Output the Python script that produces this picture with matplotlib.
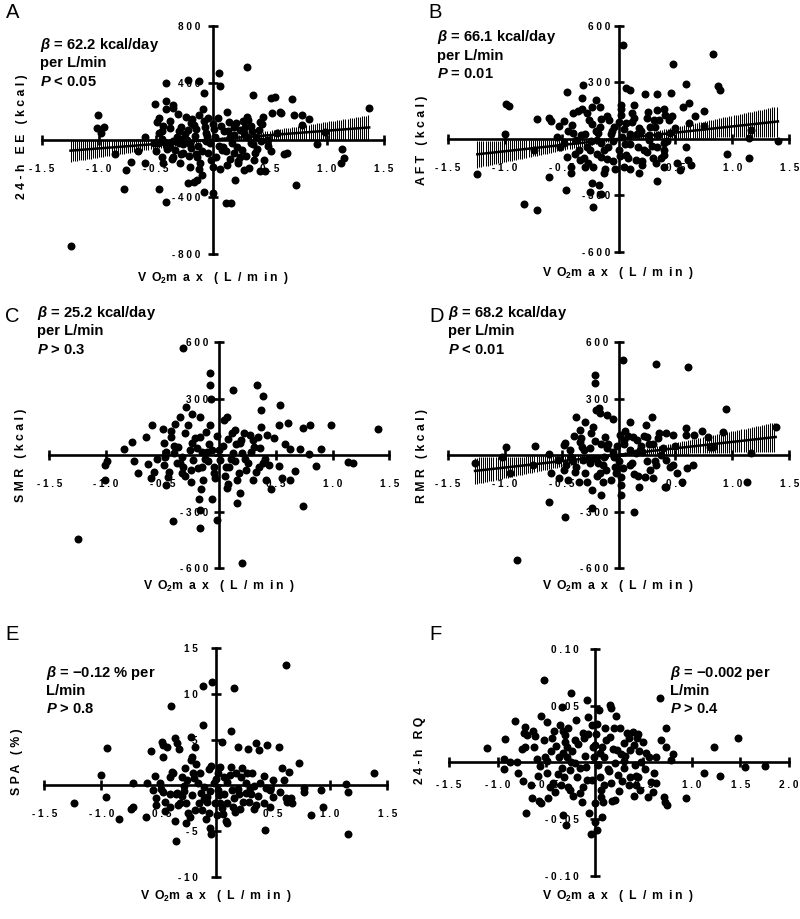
"""
Residual plots of energy expenditure components vs VO2max (panels A-F).
"""

import matplotlib.pyplot as plt
import numpy as np

plt.rcParams["font.family"] = ["Liberation Sans", "DejaVu Sans"]
plt.rcParams["mathtext.fontset"] = "custom"
plt.rcParams["mathtext.rm"] = "Liberation Sans:bold"
plt.rcParams["mathtext.bf"] = "Liberation Sans:bold"
plt.rcParams["mathtext.it"] = "Liberation Sans:italic:bold"

# ---- data (residuals) ----
a_x = [-1.25, -1.01, -1.02, -0.96, -0.98, -0.86, -0.76, -0.72, -0.78, -0.66,
       -0.60, -0.60, -0.51, -0.49, -0.52, -0.50, -0.47, -0.41, -0.41, -0.41,
       -0.35, -0.41, -0.35, -0.47, -0.44, -0.38, -0.47, -0.45, -0.44, -0.35,
       -0.38, -0.32, -0.28, -0.30, -0.26, -0.29, -0.22, -0.12, -0.08, -0.09,
       -0.12, -0.22, -0.17, -0.23, -0.19, -0.14, -0.11, -0.22, -0.17, -0.14,
       -0.10, -0.20, -0.08, 0.00, -0.04, 0.04, -0.06, -0.03, -0.04, 0.03,
       0.00, 0.05, 0.06, 0.11, 0.16, 0.19, 0.12, 0.09, 0.14, 0.18,
       0.15, 0.21, 0.24, 0.18, 0.30, 0.35, 0.30, 0.31, 0.27, 0.33,
       0.37, 0.32, 0.41, 0.46, 0.41, 0.38, 0.51, 0.54, 0.52, 0.59,
       0.60, 0.51, 0.62, 0.65, 0.47, 0.56, 0.69, 0.71, 0.78, 0.84,
       0.78, 0.73, 0.91, 0.98, 1.13, 1.15, 1.12, 1.37,
       -0.25, -0.20, -0.15, -0.10, -0.05, 0.00, 0.05, 0.10, 0.15, 0.20,
       0.25, 0.30, 0.35, 0.40, 0.45, -0.35, -0.30, -0.40, -0.45, 0.22,
       0.12, -0.12, 0.28, -0.28, 0.18, -0.08, 0.06, 0.33, -0.18, 0.42,
       -0.45, -0.42, -0.38, -0.33, -0.27, -0.24, -0.21, -0.16, -0.13, -0.07,
       -0.02, 0.02, 0.07, 0.11, 0.13, 0.17, 0.22, 0.26, 0.29, 0.34,
       0.39, 0.43, 0.48, -0.36, -0.31, -0.26, -0.19, -0.06, 0.08, 0.24,
       0.36, 0.44, -0.48, -0.15, 0.01, 0.27]
a_y = [-741, 175, 87, 94, 47, -98, -211, -157, -346, -75,
       19, -164, 253, 129, -23, -75, -342, -433, 398, 276,
       246, 215, 222, 152, 98, 82, 47, -117, -164, -117,
       -47, 23, 94, -23, -94, -159, 421, 414, 332, 218,
       175, 70, 105, 0, -58, -117, -164, -299, -292, -281,
       -246, -187, -363, -370, 152, 152, 47, -23, -94, -117,
       -187, 472, 379, -444, -444, -281, -175, -47, 129, 94,
       23, -47, -117, -94, 515, 316, 164, 140, 47, -23,
       -94, -199, -215, -215, 129, 23, 292, 304, 187, 199,
       192, -75, -98, -89, 0, 47, 285, 175, 175, 145,
       105, -318, -28, 58, -65, -126, -164, 227,
       40, -30, 80, -80, 30, 110, -40, 60, -130, 120,
       -70, 20, -30, 70, -140, -10, 60, -60, 10, -150,
       200, -200, 90, -100, 35, 130, -200, 100, 150, -10,
       60, -20, 130, -70, 10, 160, -110, 30, -40, 90,
       -140, 20, 100, -80, 60, -20, -160, 130, -110, 60,
       -60, 110, -40, -130, 180, -30, 120, -10, -70, 70,
       -140, 160, -20, -100, 80, -210]

b_x = [-1.24, -0.99, -0.96, -1.00, -0.74, -0.83, -0.72, -0.72, -0.61, -0.59,
       -0.61, -0.52, -0.48, -0.45, -0.46, -0.54, -0.51, -0.45, -0.42, -0.42,
       -0.40, -0.41, -0.37, -0.35, -0.34, -0.31, -0.32, -0.32, -0.28, -0.26,
       -0.29, -0.28, -0.29, -0.23, -0.20, -0.16, -0.15, -0.16, -0.19, -0.19,
       -0.22, -0.23, -0.17, -0.25, -0.15, -0.22, -0.10, -0.15, -0.13, -0.09,
       -0.07, -0.04, 0.00, 0.02, 0.04, 0.07, 0.10, 0.02, 0.07, 0.10,
       0.06, 0.07, 0.05, 0.10, 0.14, 0.16, 0.17, 0.18, 0.21, 0.23,
       0.26, 0.28, 0.27, 0.25, 0.34, 0.34, 0.32, 0.34, 0.33, 0.34,
       0.40, 0.40, 0.41, 0.40, 0.40, 0.46, 0.48, 0.50, 0.51, 0.54,
       0.59, 0.57, 0.62, 0.62, 0.59, 0.61, 0.64, 0.67, 0.75, 0.75,
       0.83, 0.87, 0.89, 0.95, 1.16, 1.15, 1.15, 1.40,
       -0.05, 0.00, 0.05, 0.10, -0.10, 0.20, -0.20, 0.25, 0.30, -0.30,
       0.15, -0.05, 0.02, -0.15, 0.12, -0.25, 0.45, 0.40, -0.40, 0.35,
       -0.48, -0.44, -0.38, -0.33, -0.27, -0.23, -0.18, -0.13, -0.08, -0.03,
       0.03, 0.08, 0.12, 0.18, 0.22, 0.27, 0.31, 0.37, 0.43, 0.47,
       -0.36, -0.24, -0.12, 0.01, 0.14, 0.29, 0.44, -0.06, 0.21, 0.36]
b_y = [-188, 184, 174, 28, -60, -344, -379, 108, 113, 96,
       -202, 67, 96, 250, -273, 11, -43, -96, -149, -184,
       135, 73, -7, -60, -113, 285, 215, 161, 135, 99,
       28, -43, -149, 170, 209, 170, 103, 64, -7, -78,
       -149, -234, -246, -282, -291, -362, -105, -96, -181, -43,
       28, 64, 90, 126, 498, 268, 262, 161, 82, 28,
       -25, -87, -149, -158, 179, 28, -43, -184, -140, 241,
       144, 64, -7, -69, 238, 153, 64, -43, -131, -225,
       -149, 161, 126, -60, -87, 245, 397, 60, -131, -167,
       289, 167, 188, 82, -43, -113, -140, 122, 149, 67,
       450, 280, 262, -82, 46, 2, -101, -12,
       -10, -60, 50, -30, 120, 40, 40, 110, -100, -100,
       -110, -120, 180, -20, 90, -60, 30, -20, 30, 20,
       -20, 40, -80, 20, -130, 80, 30, -60, 100, -160,
       10, -100, 140, 60, -60, 20, 100, -100, -10, 120,
       150, -10, -160, -90, 110, -40, 100, 40, -120, 100]

c_x = [-1.25, -1.01, -0.99, -1.01, -0.84, -0.77, -0.75, -0.72, -0.65, -0.63,
       -0.59, -0.58, -0.60, -0.50, -0.49, -0.48, -0.49, -0.47, -0.45, -0.43,
       -0.43, -0.41, -0.39, -0.35, -0.36, -0.33, -0.32, -0.33, -0.30, -0.29,
       -0.32, -0.24, -0.24, -0.25, -0.23, -0.18, -0.17, -0.17, -0.17, -0.17,
       -0.16, -0.14, -0.12, -0.11, -0.08, -0.08, -0.07, -0.08, -0.06, -0.02,
       -0.05, -0.02, 0.01, 0.04, 0.07, 0.07, 0.08, 0.09, 0.12, 0.14,
       0.16, 0.18, 0.17, 0.20, 0.18, 0.22, 0.24, 0.30, 0.31, 0.33,
       0.37, 0.39, 0.37, 0.34, 0.39, 0.42, 0.41, 0.46, 0.53, 0.54,
       0.53, 0.55, 0.58, 0.61, 0.62, 0.62, 0.67, 0.71, 0.74, 0.74,
       0.79, 0.80, 0.85, 0.90, 0.99, 1.14, 1.18, 1.40,
       -0.10, 0.00, 0.10, -0.20, 0.20, -0.05, 0.15, -0.25, 0.25, 0.05,
       -0.15, 0.30, -0.35, 0.35, 0.12, -0.40,
       -0.47, -0.44, -0.40, -0.37, -0.30, -0.26, -0.21, -0.19, -0.13, -0.09,
       -0.04, 0.03, 0.06, 0.11, 0.14, 0.19, 0.23, 0.27, 0.32, 0.36,
       0.44, 0.48, -0.55, -0.28, -0.06, 0.16, 0.28, 0.40, -0.15, 0.08]
c_y = [-446, -51, -28, -131, 34, 73, -28, -92, 99, -46,
       159, -87, -122, 138, 64, -7, -51, -158, -117, 129,
       99, -347, 166, 205, 46, -7, -60, -96, 117, 258,
       568, 219, 64, -140, -25, -234, 205, 99, -290, -384,
       -181, -131, 126, 19, 439, 373, 297, 161, -232, -343,
       -96, 103, -25, 188, 205, -175, 85, -60, 347, 135,
       -251, -202, -96, -570, 64, 120, -78, -131, 46, 373,
       241, 315, 152, 99, -42, 108, -131, -181, 161, 267,
       -57, -122, 60, 173, 32, -131, -81, 32, 143, -269,
       7, 161, -55, 32, 161, -34, -42, 140,
       -30, 30, -20, 40, 10, -60, 60, -80, -40, -110,
       20, 80, -40, -60, 10, 10,
       20, -90, 50, -40, -110, 30, 90, -70, -20, 60,
       -120, 50, -60, 120, -30, 80, -20, 110, -90, 40,
       -50, 90, -20, 160, 30, -130, 20, -20, -60, -150]

d_x = [-1.26, -1.02, -0.99, -0.95, -0.89, -0.73, -0.75, -0.61, -0.61, -0.59,
       -0.53, -0.48, -0.47, -0.47, -0.48, -0.44, -0.42, -0.39, -0.37, -0.37,
       -0.35, -0.34, -0.32, -0.31, -0.29, -0.29, -0.28, -0.24, -0.23, -0.23,
       -0.21, -0.21, -0.21, -0.20, -0.17, -0.16, -0.18, -0.16, -0.15, -0.14,
       -0.12, -0.13, -0.10, -0.05, -0.04, -0.03, -0.02, 0.02, 0.02, 0.02,
       0.04, 0.01, 0.05, 0.10, 0.13, 0.10, 0.14, 0.17, 0.18, 0.21,
       0.23, 0.24, 0.25, 0.29, 0.30, 0.33, 0.33, 0.37, 0.41, 0.42,
       0.42, 0.42, 0.48, 0.48, 0.51, 0.56, 0.59, 0.59, 0.61, 0.60,
       0.65, 0.66, 0.73, 0.79, 0.80, 0.83, 0.92, 0.94, 1.13, 1.16,
       1.38,
       -0.30, -0.20, -0.10, 0.00, 0.10, 0.20, -0.25, 0.15, 0.30, -0.15,
       0.25, -0.05, 0.05, -0.40, 0.35,
       -0.46, -0.43, -0.38, -0.34, -0.27, -0.25, -0.19, -0.14, -0.09, -0.07,
       -0.01, 0.04, 0.08, 0.12, 0.16, 0.19, 0.22, 0.27, 0.32, 0.36,
       0.39, 0.45, -0.52, -0.33, -0.11, 0.06, 0.28, 0.50, -0.22, 0.14]
d_y = [-39, -7, 46, -92, -556, 51, -51, 7, -246, -92,
       -25, 55, 67, -329, -78, -131, -7, 103, 202, -60,
       -140, 135, 46, -25, 179, -96, -140, 117, -184, -281,
       78, 386, 427, 241, 250, 223, -42, -96, -211, -140,
       99, -7, 214, 191, -7, -60, -96, -113, -158, -211,
       506, 108, 81, 179, 99, 28, -303, -110, -166, 19,
       -113, 161, 96, 205, -122, 485, -51, 2, -166, 120,
       -25, -166, -51, 108, -92, -140, 108, 143, 471, -69,
       -51, 108, 129, 99, 46, 46, 126, 246, -140, 14,
       149,
       30, -20, 40, -30, -50, 50, -40, 10, 60, 60,
       -30, 20, 60, -30, 90,
       -50, 30, -90, 70, -20, 40, -110, -50, 60, -130,
       50, -70, 100, -40, 80, 30, 100, 60, -30, 120,
       40, -60, -120, 90, -80, 130, -80, 50, 150, -100]

e_x = [-1.24, -1.00, -0.96, -0.95, -0.85, -0.74, -0.72, -0.72, -0.61, -0.60,
       -0.57, -0.53, -0.55, -0.52, -0.46, -0.46, -0.47, -0.43, -0.49, -0.46,
       -0.44, -0.39, -0.40, -0.40, -0.36, -0.37, -0.36, -0.35, -0.34, -0.34,
       -0.32, -0.31, -0.30, -0.28, -0.27, -0.26, -0.23, -0.22, -0.21, -0.22,
       -0.21, -0.20, -0.18, -0.18, -0.16, -0.14, -0.13, -0.12, -0.11, -0.11,
       -0.09, -0.08, -0.06, -0.05, -0.04, -0.03, -0.04, -0.02, -0.01, 0.02,
       0.02, 0.04, 0.04, 0.05, 0.06, 0.07, 0.09, 0.10, 0.10, 0.13,
       0.13, 0.15, 0.16, 0.17, 0.18, 0.19, 0.19, 0.22, 0.24, 0.26,
       0.27, 0.28, 0.29, 0.32, 0.33, 0.35, 0.35, 0.38, 0.39, 0.42,
       0.43, 0.45, 0.47, 0.50, 0.50, 0.55, 0.56, 0.58, 0.60, 0.61,
       0.61, 0.62, 0.64, 0.66, 0.67, 0.73, 0.77, 0.77, 0.83, 0.92,
       0.94, 1.14, 1.16, 1.16, 1.38,
       -0.30, -0.25, -0.10, 0.00, 0.20, 0.30, -0.40, 0.10, -0.05, 0.05,
       -0.48, -0.44, -0.38, -0.33, -0.28, -0.24, -0.19, -0.15, -0.10, -0.06,
       0.01, 0.07, 0.12, 0.16, 0.21, 0.26, 0.31, 0.37, 0.42, 0.47,
       -0.52, -0.35, -0.17, 0.03, 0.23, 0.44, -0.26, 0.14, 0.33, -0.08]
e_y = [-1.97, 1.17, -1.31, 4.05, -3.72, -2.63, -2.34, 0.29, -3.50, 0.29,
       3.80, 1.02, -0.51, -1.35, 3.14, 4.42, 4.78, 4.23, 0.22, -0.69,
       -1.79, 8.69, -2.34, 0.95, 5.22, 1.31, -3.87, -6.06, 4.67, -0.88,
       3.94, -1.97, 0.95, -0.07, 1.86, -4.09, -3.43, 2.77, 3.14, 5.33,
       -1.06, 1.31, 4.23, -2.70, 0.22, 1.31, -0.80, -2.70, 6.61, 10.88,
       -3.72, -1.79, -2.99, -4.71, -5.36, 11.35, 2.12, 0.22, -1.97, 1.39,
       -0.51, 2.04, -1.97, 4.71, -3.14, 0.95, -3.87, -1.90, -4.09, 1.97,
       5.99, -2.34, 10.62, -2.88, 1.31, 4.23, -0.44, 0.95, -1.79, -0.88,
       1.31, 3.94, -1.79, 1.31, -2.63, 4.67, -2.15, 3.87, 0.22, -1.90,
       -4.89, 4.42, -2.34, 0.58, -1.24, 4.23, -0.69, 1.86, 0.58, 13.18,
       -1.42, -1.79, 1.42, -1.42, -1.90, 2.48, -0.33, -0.69, -3.25, -0.51,
       -2.34, 0.11, -0.77, -5.33, 1.31,
       -1.2, 0.6, -1.5, 0.7, -1.0, -0.3, -0.9, 0.4, -0.6, -2.5,
       -0.4, -2.8, 1.5, -2.2, -0.6, -3.0, 0.8, -1.9, -0.2, 1.8,
       -3.2, -0.9, 1.1, -1.4, -2.6, 0.3, -0.9, -1.2, 1.0, -0.5,
       -2.1, -1.0, 2.3, -1.1, 1.9, -0.3, -1.9, -0.5, -0.1, -1.3]

f_x = [-1.11, -0.92, -0.93, -0.93, -0.87, -0.82, -0.80, -0.79, -0.74, -0.72,
       -0.73, -0.70, -0.72, -0.71, -0.65, -0.64, -0.61, -0.62, -0.59, -0.57,
       -0.55, -0.56, -0.55, -0.52, -0.51, -0.49, -0.49, -0.49, -0.48, -0.44,
       -0.43, -0.41, -0.40, -0.37, -0.36, -0.34, -0.34, -0.33, -0.31, -0.32,
       -0.33, -0.31, -0.29, -0.30, -0.29, -0.27, -0.25, -0.25, -0.24, -0.23,
       -0.20, -0.19, -0.18, -0.15, -0.13, -0.12, -0.11, -0.10, -0.09, -0.08,
       -0.08, -0.07, -0.06, -0.04, -0.03, -0.02, -0.01, 0.00, 0.00, 0.02,
       0.02, 0.03, 0.04, 0.05, 0.06, 0.06, 0.08, 0.07, 0.10, 0.14,
       0.16, 0.17, 0.16, 0.17, 0.18, 0.21, 0.21, 0.22, 0.23, 0.24,
       0.26, 0.27, 0.28, 0.30, 0.30, 0.33, 0.35, 0.36, 0.36, 0.39,
       0.40, 0.41, 0.43, 0.44, 0.45, 0.47, 0.48, 0.50, 0.53, 0.55,
       0.56, 0.58, 0.60, 0.61, 0.63, 0.67, 0.71, 0.72, 0.74, 0.73,
       0.73, 0.79, 0.81, 0.94, 1.12, 1.23, 1.29, 1.48, 1.55, 1.75,
       -0.45, -0.20, 0.10, 0.30, -0.35, 0.45, 0.00, -0.15, 0.20, 0.40,
       -0.58, -0.52, -0.46, -0.42, -0.38, -0.33, -0.27, -0.22, -0.17, -0.12,
       -0.07, -0.03, 0.01, 0.05, 0.09, 0.12, 0.15, 0.19, 0.25, 0.31,
       0.35, 0.42, 0.46, 0.52, -0.66, -0.75, 0.63, 0.68, -0.24, 0.11]
f_y = [0.0124, 0.0203, 0.0029, -0.0062, 0.0006, 0.0368, 0.0006, -0.0097, -0.0162, 0.0315,
       0.0262, 0.0241, 0.0138, -0.0444, -0.0318, 0.0279, 0.0232, 0.0132, 0.0026, -0.0338,
       -0.0356, -0.0032, 0.0409, 0.0726, 0.0050, 0.0015, 0.0359, -0.0097, -0.0318, 0.0218,
       -0.0179, -0.0259, 0.0144, 0.0050, 0.0329, 0.0491, -0.0053, 0.0276, 0.0241, -0.0126,
       -0.0465, 0.0182, 0.0138, -0.0553, 0.0050, -0.0215, -0.0068, -0.0244, 0.0609, 0.0103,
       -0.0003, 0.0374, -0.0126, -0.0268, -0.0347, 0.0262, 0.0212, 0.0056, -0.0044, -0.0156,
       0.0550, 0.0250, -0.0450, -0.0632, 0.0329, 0.0138, 0.0050, -0.0362, -0.0524, -0.0597,
       0.0338, -0.0024, 0.0462, -0.0126, -0.0303, -0.0244, -0.0479, 0.0138, 0.0050, -0.0062,
       0.0506, 0.0476, 0.0226, -0.0179, -0.0338, -0.0332, -0.0009, 0.0409, 0.0109, -0.0112,
       0.0300, 0.0074, -0.0162, 0.0168, 0.0015, 0.0256, 0.0212, -0.0126, 0.0109, 0.0271,
       0.0153, -0.0024, -0.0200, 0.0212, -0.0126, -0.0244, 0.0006, 0.0182, 0.0079, -0.0303,
       0.0050, -0.0171, -0.0259, -0.0097, 0.0050, 0.0565, -0.0303, -0.0347, -0.0376, 0.0300,
       0.0138, 0.0021, 0.0074, -0.0318, -0.0097, 0.0138, -0.0118, 0.0212, -0.0038, -0.0032,
       0.0100, 0.0200, -0.0200, -0.0050, -0.0200, 0.0250, 0.0150, -0.0050, 0.0300, -0.0300,
       -0.012, 0.020, -0.022, 0.028, -0.010, 0.008, 0.030, -0.030, 0.016, -0.022,
       0.040, -0.016, 0.025, 0.008, -0.035, 0.020, -0.008, 0.012, -0.025, 0.006,
       -0.020, -0.012, 0.010, -0.006, -0.020, 0.012, -0.018, 0.020, 0.000, 0.030]

# fitted line: slope, intercept, CI half-width at x=0 and growth with x
fits = {
    "A": (62.2, 3.0, 8.0, 62.0),
    "B": (66.1, 0.0, 8.0, 57.0),
    "D": (68.2, 3.0, 8.0, 56.0),
}

W, H = 800, 919


def fx(px):
    return px / W


def fy(py):
    return 1 - py / H


def spaced(s, sep=" "):
    return sep.join(s)


def draw_panel(box, xs, ys, xlim, ylim, xticks, yticks, ylabels, ypad, xpad=13.5, fit=None):
    x0, y0, x1, y1 = box
    ax = fig.add_axes([fx(x0), fy(y1), (x1 - x0) / W, (y1 - y0) / H])
    ax.set_xlim(*xlim)
    ax.set_ylim(*ylim)
    ax.patch.set_visible(False)
    for side in ("top", "right"):
        ax.spines[side].set_visible(False)
    ax.spines["left"].set_position(("data", 0))
    ax.spines["bottom"].set_position(("data", 0))
    for side in ("left", "bottom"):
        ax.spines[side].set_linewidth(1.9)
    ax.set_xticks(xticks)
    ax.set_xticklabels([spaced(f"{v:.1f}") for v in xticks])
    ax.set_yticks(yticks)
    ax.set_yticklabels([spaced(t) for t in ylabels])
    ax.tick_params(axis="both", direction="inout", length=7.5, width=1.9,
                   labelsize=7.2)
    ax.tick_params(axis="x", pad=xpad)
    ax.tick_params(axis="y", pad=ypad)
    for lab in ax.get_xticklabels() + ax.get_yticklabels():
        lab.set_fontweight("bold")

    if fit is not None:
        slope, icpt, se0, seb = fit
        xg = np.arange(min(xs), max(xs) + 1e-9, 0.018)
        yg = slope * xg + icpt
        hw = np.sqrt(se0**2 + (seb * xg) ** 2)
        ax.vlines(xg, yg - hw, yg + hw, colors="black", linewidth=0.75, zorder=3)
        xl = np.array([min(xs), max(xs)])
        ax.plot(xl, slope * xl + icpt, color="black", lw=1.8, zorder=3)

    ax.scatter(xs, ys, s=33, color="black", linewidths=0, zorder=4, clip_on=False)
    return ax


fig = plt.figure(figsize=(8, 9.19), dpi=100)

panels = [
    ("A", (42, 26, 384, 254), a_x, a_y, (-800, 800), [-800, -400, 0, 400, 800],
     ["-800", "-400", "", "400", "800"], 5.0, fits["A"]),
    ("B", (447.7, 26, 789.3, 251.7), b_x, b_y, (-600, 600), [-600, -300, 0, 300, 600],
     ["-600", "-300", "", "300", "600"], 2.0, fits["B"]),
    ("C", (49.3, 342.3, 389.3, 568.3), c_x, c_y, (-600, 600), [-600, -300, 0, 300, 600],
     ["-600", "-300", "", "300", "600"], 4.0, None),
    ("D", (447.7, 342.3, 789.3, 568.3), d_x, d_y, (-600, 600), [-600, -300, 0, 300, 600],
     ["-600", "-300", "", "300", "600"], 3.5, fits["D"]),
    ("E", (44.3, 648.3, 387.3, 876.7), e_x, e_y, (-10, 15), [-10, -5, 0, 5, 10, 15],
     ["-10", "-5", "", "5", "10", "15"], 9.5, None),
    ("F", (449, 649, 789, 875.7), f_x, f_y, (-0.10, 0.10), [-0.10, -0.05, 0, 0.05, 0.10],
     ["-0.10", "-0.05", "", "0.05", "0.10"], 8.0, None),
]

axes = {}
for name, box, xs, ys, ylim, yt, yl, ypad, fit in panels:
    if name == "F":
        xlim, xt = (-1.5, 2.0), [-1.5, -1.0, -0.5, 0.5, 1.0, 1.5, 2.0]
        xpad = 9.0
    else:
        xlim, xt = (-1.5, 1.5), [-1.5, -1.0, -0.5, 0.5, 1.0, 1.5]
        xpad = 13.5
    axes[name] = draw_panel(box, xs, ys, xlim, ylim, xt, yt, yl, ypad, xpad, fit)

# panel letters
letters = {"A": (6, 13), "B": (428, 13), "C": (5, 316), "D": (429, 316),
           "E": (5, 634), "F": (429, 634)}
for k, (px, py) in letters.items():
    fig.text(fx(px), fy(py), k, fontsize=14.5, ha="left", va="center")

# y axis labels
ylab = {"A": ("24-h EE (kcal)", 22, 137), "B": ("AFT (kcal)", 422, 140),
        "C": ("SMR (kcal)", 21, 455), "D": ("RMR (kcal)", 422, 456),
        "E": ("SPA (%)", 17, 762), "F": ("24-h RQ", 420, 750)}
for k, (txt, px, py) in ylab.items():
    fig.text(fx(px), fy(py), spaced(txt), rotation=90, fontsize=8.8,
             fontweight="bold", ha="center", va="center")

# x axis labels
xlab_pos = {"A": (213, 278), "B": (618, 273), "C": (219, 586), "D": (618, 586),
            "E": (216, 896), "F": (618, 896)}
vo2 = "V \u2009O$_\\mathregular{2}$m \u2009a \u2009x \u2009 \u2009( \u2009L \u2009/ \u2009m \u2009i n \u2009)"
for k, (px, py) in xlab_pos.items():
    fig.text(fx(px), fy(py), vo2, fontsize=8.8, fontweight="bold",
             ha="center", va="center")

# statistics text
stats = {
    "A": (40, [45, 63, 82], ["$\\mathit{\\beta}$ = 62.2 kcal/day", "per L/min", "$\\mathit{P}$ < 0.05"]),
    "B": (437, [37, 56, 74], ["$\\mathit{\\beta}$ = 66.1 kcal/day", "per L/min", "$\\mathit{P}$ = 0.01"]),
    "C": (37, [313, 331, 350], ["$\\mathit{\\beta}$ = 25.2 kcal/day", "per L/min", "$\\mathit{P}$ > 0.3"]),
    "D": (448, [313, 331, 350], ["$\\mathit{\\beta}$ = 68.2 kcal/day", "per L/min", "$\\mathit{P}$ < 0.01"]),
    "E": (46, [673, 691, 709], ["$\\mathit{\\beta}$ = \u22120.12 % per", "L/min", "$\\mathit{P}$ > 0.8"]),
    "F": (670, [673, 691, 709], ["$\\mathit{\\beta}$ = \u22120.002 per", "L/min", "$\\mathit{P}$ > 0.4"]),
}
for k, (px, pys, lines) in stats.items():
    for py, line in zip(pys, lines):
        fig.text(fx(px), fy(py), line, fontsize=10.6, fontweight="bold",
                 ha="left", va="center")

fig.savefig("out.png", dpi=100)
